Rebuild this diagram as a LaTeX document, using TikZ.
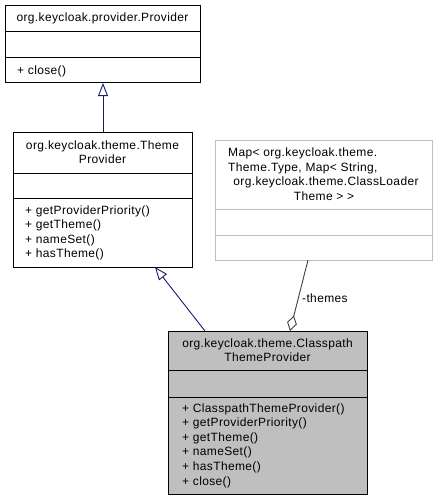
\documentclass[tikz,border=0pt]{standalone}
\usepackage{fontspec}
\setmainfont[LetterSpace=3]{Liberation Sans}
\usetikzlibrary{arrows.meta}
\definecolor{navyline}{HTML}{191970}
\definecolor{aggline}{HTML}{404040}
\definecolor{fillgray}{HTML}{BFBFBF}
\definecolor{lightborder}{HTML}{BFBFBF}
\begin{document}
\begin{tikzpicture}[x=1pt,y=-1pt,
  font=\fontsize{12}{14}\selectfont,
  cls/.style={draw=black, line width=1pt, inner sep=0pt, anchor=north west, fill=white},
  sep/.style={line width=1pt},
  txt/.style={inner sep=0pt, anchor=base},
  mtxt/.style={inner sep=0pt, anchor=base west},
  gen/.style={navyline, line width=0.9pt, -{Triangle[open, length=13pt, width=10pt, fill=white]}},
  agg/.style={aggline, line width=0.9pt, -{Diamond[open, length=16pt, width=10pt, fill=white]}}]
\useasboundingbox (0,0) rectangle (437,501);

% Provider
\node[cls, minimum width=195pt, minimum height=77pt] (p) at (5,5) {};
\draw[sep] (5,31) -- (200,31) (5,57) -- (200,57);
\node[txt] (pt) at (102.5,21) {org.keycloak.provider.Provider};
\node[mtxt] (pm) at (17,74) {+ close()};

% ThemeProvider
\node[cls, minimum width=179pt, minimum height=135pt] (t) at (13,132) {};
\draw[sep] (13,173) -- (192,173) (13,198) -- (192,198);
\node[txt] (tt1) at (102.5,149) {org.keycloak.theme.Theme};
\node[txt] (tt2) at (102.5,163) {Provider};
\foreach \s [count=\i from 0] in {getProviderPriority(),getTheme(),nameSet(),hasTheme()}
  \node[mtxt] (tm\i) at (25,214+14.6*\i) {+ \s};

% Map
\node[cls, draw=lightborder, minimum width=217pt, minimum height=120pt] (m) at (215,140) {};
\draw[sep, lightborder] (215,209) -- (432,209) (215,235) -- (432,235);
\node[mtxt] (mt1) at (228,156) {Map< org.keycloak.theme.};
\node[mtxt] (mt2) at (228,171) {Theme.Type, Map< String,};
\node[txt] (mt3) at (326,185) {org.keycloak.theme.ClassLoader};
\node[txt] (mt4) at (324,200) {Theme > >};

% ClasspathThemeProvider
\node[cls, fill=fillgray, minimum width=199pt, minimum height=163pt] (c) at (168,331) {};
\draw[sep] (168,370) -- (367,370) (168,397) -- (367,397);
\node[txt] (ct1) at (267.5,347) {org.keycloak.theme.Classpath};
\node[txt] (ct2) at (267.5,361) {ThemeProvider};
\foreach \s [count=\i from 0] in {ClasspathThemeProvider(),getProviderPriority(),getTheme(),nameSet(),hasTheme(),close()}
  \node[mtxt] (cm\i) at (182,412+14.6*\i) {+ \s};

% connectors
\draw[gen] (t.north) -- (p.south);
\coordinate (c1) at (205,331);
\coordinate (t1) at (155,267);
\draw[gen] (c1) -- (t1);
\coordinate (m1) at (308,260);
\coordinate (c2) at (290,331);
\draw[agg] (m1) -- (c2);
\node[inner sep=0pt, anchor=west] (lbl) at (302,298) {-themes};
\end{tikzpicture}
\end{document}
